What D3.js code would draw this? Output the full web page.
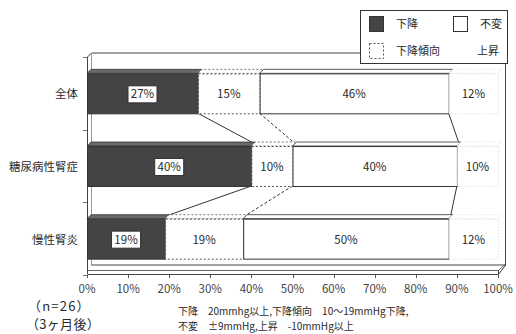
<!DOCTYPE html>
<html>
<head>
<meta charset="utf-8">
<script src="https://cdn.jsdelivr.net/npm/d3@7"></script>
<style>
  body { margin: 0; background: #fff; }
  svg { display: block; font-family: "Noto Sans CJK JP", "Noto Sans", sans-serif; }
</style>
</head>
<body>
<svg id="chart" width="516" height="334"></svg>
<script>
// Blood-pressure change after 3 months, share of patients per group (%)
const categories = ["全体", "糖尿病性腎症", "慢性腎炎"];
const seriesNames = ["下降", "下降傾向", "不変", "上昇"];
const drop      = [27, 40, 19];
const dropTrend = [15, 10, 19];
const unchanged = [46, 40, 50];
const rise      = [12, 10, 12];
const tickValues = [0, 10, 20, 30, 40, 50, 60, 70, 80, 90, 100];
const sampleNotes = ["（n=26）", "（3ヶ月後）"];
const noteLines = ["下降　20mmhg以上,下降傾向　10～19mmHg下降,", "不変　±9mmHg,上昇　-10mmHg以上"];

const seriesValues = [drop, dropTrend, unchanged, rise];
const rows = categories.map((c, i) => {
  let acc = 0;
  const segs = seriesValues.map((vals, s) => {
    const seg = { cat: c, s, v: vals[i], x0: acc, x1: acc + vals[i] };
    acc += vals[i];
    return seg;
  });
  return { cat: c, segs };
});

const svg = d3.select("#chart");
const ink = "#2a2a2a";
const depth = 4;

const x = d3.scaleLinear().domain([0, 100]).range([87, 498]);
const y = d3.scaleBand().domain(categories).range([57, 275])
  .paddingInner(0.45).paddingOuter(0.225);

// segment styles by series
const segStyle = [
  { fill: "#444", stroke: "#333", dash: null, top: "#6a6a6a" },
  { fill: "#fff", stroke: "#555", dash: "2,2", top: "#fff" },
  { fill: "#fff", stroke: "#333", dash: null, top: "#fff" },
  { fill: "#fff", stroke: "#d6d6d6", dash: "1,2", top: "#fff" }
];

// ---- 3D frame: back wall edges, left wall, floor ----
const frame = svg.append("g").attr("fill", "none").attr("stroke", "#444").attr("stroke-width", 1);
const xL = x(0), xR = x(100), yTop = 57, yBot = 272;
frame.append("path").attr("d", `M${xL + 0.5},${yBot + 2} V${yTop} L${xL + depth + 0.5},${yTop - depth} H${xR + 7.5} V${yBot - depth - 2}`);
frame.append("path").attr("d", `M${xL + depth + 0.5},${yTop - depth} V${yBot - depth - 2}`).attr("stroke", "#999");
// floor slab
frame.append("path")
  .attr("d", `M${xL + 0.5},${yBot + 2.5} H${xR + 0.5} L${xR + 7.5},${yBot - depth - 3} H${xL + depth + 0.5}`)
  .attr("fill", "#fff");
frame.append("path").attr("d", `M${xL + 0.5},${yBot - 1.5} H${xR + 0.5} L${xR + 7.5},${yBot - depth - 4}`).attr("stroke", "#666");
frame.append("path").attr("d", `M${xR + 0.5},${yBot - 1.5} V${yBot + 2.5}`);

// axis ticks under the floor
svg.append("g").selectAll("line").data(tickValues).join("line")
  .attr("x1", d => Math.round(x(d)) + 0.5).attr("x2", d => Math.round(x(d)) + 0.5)
  .attr("y1", yBot + 3).attr("y2", yBot + 6).attr("stroke", "#555");
// category ticks on the left wall
const bounds = [0, 1, 2, 3].map(i => yTop + i * y.step());
svg.append("g").selectAll("line").data(bounds).join("line")
  .attr("x1", xL - 4).attr("x2", xL).attr("y1", d => Math.round(d) + 0.5).attr("y2", d => Math.round(d) + 0.5)
  .attr("stroke", "#777");

// ---- series lines between neighbouring bars ----
const lineStyles = [null, "3,2", null];
const links = [];
for (let i = 0; i < rows.length - 1; i++) {
  for (let s = 0; s < 3; s++) {
    links.push({ s, a: rows[i].segs[s].x1, b: rows[i + 1].segs[s].x1,
      ya: y(rows[i].cat) + y.bandwidth(), yb: y(rows[i + 1].cat) });
  }
}
svg.append("g").selectAll("line").data(links).join("line")
  .attr("x1", d => x(d.a)).attr("y1", d => d.ya)
  .attr("x2", d => x(d.b) + 2).attr("y2", d => d.yb - depth + 1)
  .attr("stroke", "#333").attr("stroke-width", 1)
  .attr("stroke-dasharray", d => lineStyles[d.s]);

// ---- bars ----
const bars = svg.append("g").selectAll("g").data(rows).join("g")
  .attr("transform", d => `translate(0,${y(d.cat)})`);
const h = y.bandwidth();
// top faces
bars.selectAll("path.top").data(d => d.segs).join("path").attr("class", "top")
  .attr("d", d => {
    const a = x(d.x0), b = x(d.x1);
    return `M${a},0 L${a + depth},${-depth} H${b + depth} L${b},0 Z`;
  })
  .attr("fill", d => segStyle[d.s].top)
  .attr("stroke", d => segStyle[d.s].stroke)
  .attr("stroke-dasharray", d => segStyle[d.s].dash)
  .attr("stroke-width", 0.8);
// front faces
bars.selectAll("rect").data(d => d.segs).join("rect")
  .attr("x", d => x(d.x0) + 0.5).attr("y", 0.5)
  .attr("width", d => x(d.x1) - x(d.x0)).attr("height", h)
  .attr("fill", d => segStyle[d.s].fill)
  .attr("stroke", d => segStyle[d.s].stroke)
  .attr("stroke-dasharray", d => segStyle[d.s].dash)
  .attr("stroke-width", 1);

// value labels
const lab = bars.selectAll("g.lab").data(d => d.segs).join("g").attr("class", "lab")
  .attr("transform", d => `translate(${(x(d.x0) + x(d.x1)) / 2},${h / 2 + 1})`);
lab.filter(d => d.s === 0).append("rect")
  .attr("x", -14.5).attr("y", -8.5).attr("width", 29).attr("height", 17)
  .attr("fill", "#fff").attr("stroke", "#333");
lab.append("text")
  .attr("text-anchor", "middle").attr("dy", "0.36em")
  .attr("font-size", 11.5).attr("fill", ink)
  .text(d => d.v + "%");

// category labels
svg.append("g").selectAll("text").data(categories).join("text")
  .attr("x", 78).attr("y", d => y(d) + h / 2 + 1).attr("dy", "0.36em")
  .attr("text-anchor", "end").attr("font-size", 11.5).attr("fill", ink)
  .text(d => d);

// x axis labels
svg.append("g").selectAll("text").data(tickValues).join("text")
  .attr("x", d => x(d)).attr("y", 289).attr("dy", "0.36em")
  .attr("text-anchor", "middle").attr("font-size", 11.5).attr("fill", "#444")
  .text(d => d + "%");

// notes
svg.append("g").selectAll("text").data(sampleNotes).join("text")
  .attr("x", (d, i) => i === 0 ? 28 : 26).attr("y", (d, i) => 306 + i * 18).attr("dy", "0.36em")
  .attr("letter-spacing", (d, i) => i === 0 ? 1.2 : 0.3)
  .attr("font-size", 13).attr("fill", ink).text(d => d);
svg.append("g").selectAll("text").data(noteLines).join("text")
  .attr("x", 178).attr("y", (d, i) => 311 + i * 15).attr("dy", "0.36em")
  .attr("font-size", 10).attr("fill", ink).attr("xml:space", "preserve").text(d => d);

// ---- legend ----
const lg = svg.append("g").attr("transform", "translate(360,10)");
lg.append("rect").attr("x", 0.5).attr("y", 0.5).attr("width", 147).attr("height", 53)
  .attr("fill", "#fff").attr("stroke", "#333");
const legendPos = [[9, 6], [9, 33], [93, 6], [93, 33]];
const li = lg.selectAll("g.item").data(seriesNames).join("g").attr("class", "item")
  .attr("transform", (d, i) => `translate(${legendPos[i][0]},${legendPos[i][1]})`);
li.append("rect").attr("x", 0.5).attr("y", 0.5).attr("width", 14).attr("height", 15)
  .attr("fill", (d, i) => segStyle[i].fill)
  .attr("stroke", (d, i) => i === 3 ? "none" : segStyle[i].stroke)
  .attr("stroke-dasharray", (d, i) => segStyle[i].dash);
li.append("text").attr("x", (d, i) => i === 3 ? 24 : 27).attr("y", 8.5).attr("dy", "0.36em")
  .attr("font-size", 11).attr("fill", ink).text(d => d);
</script>
</body>
</html>
